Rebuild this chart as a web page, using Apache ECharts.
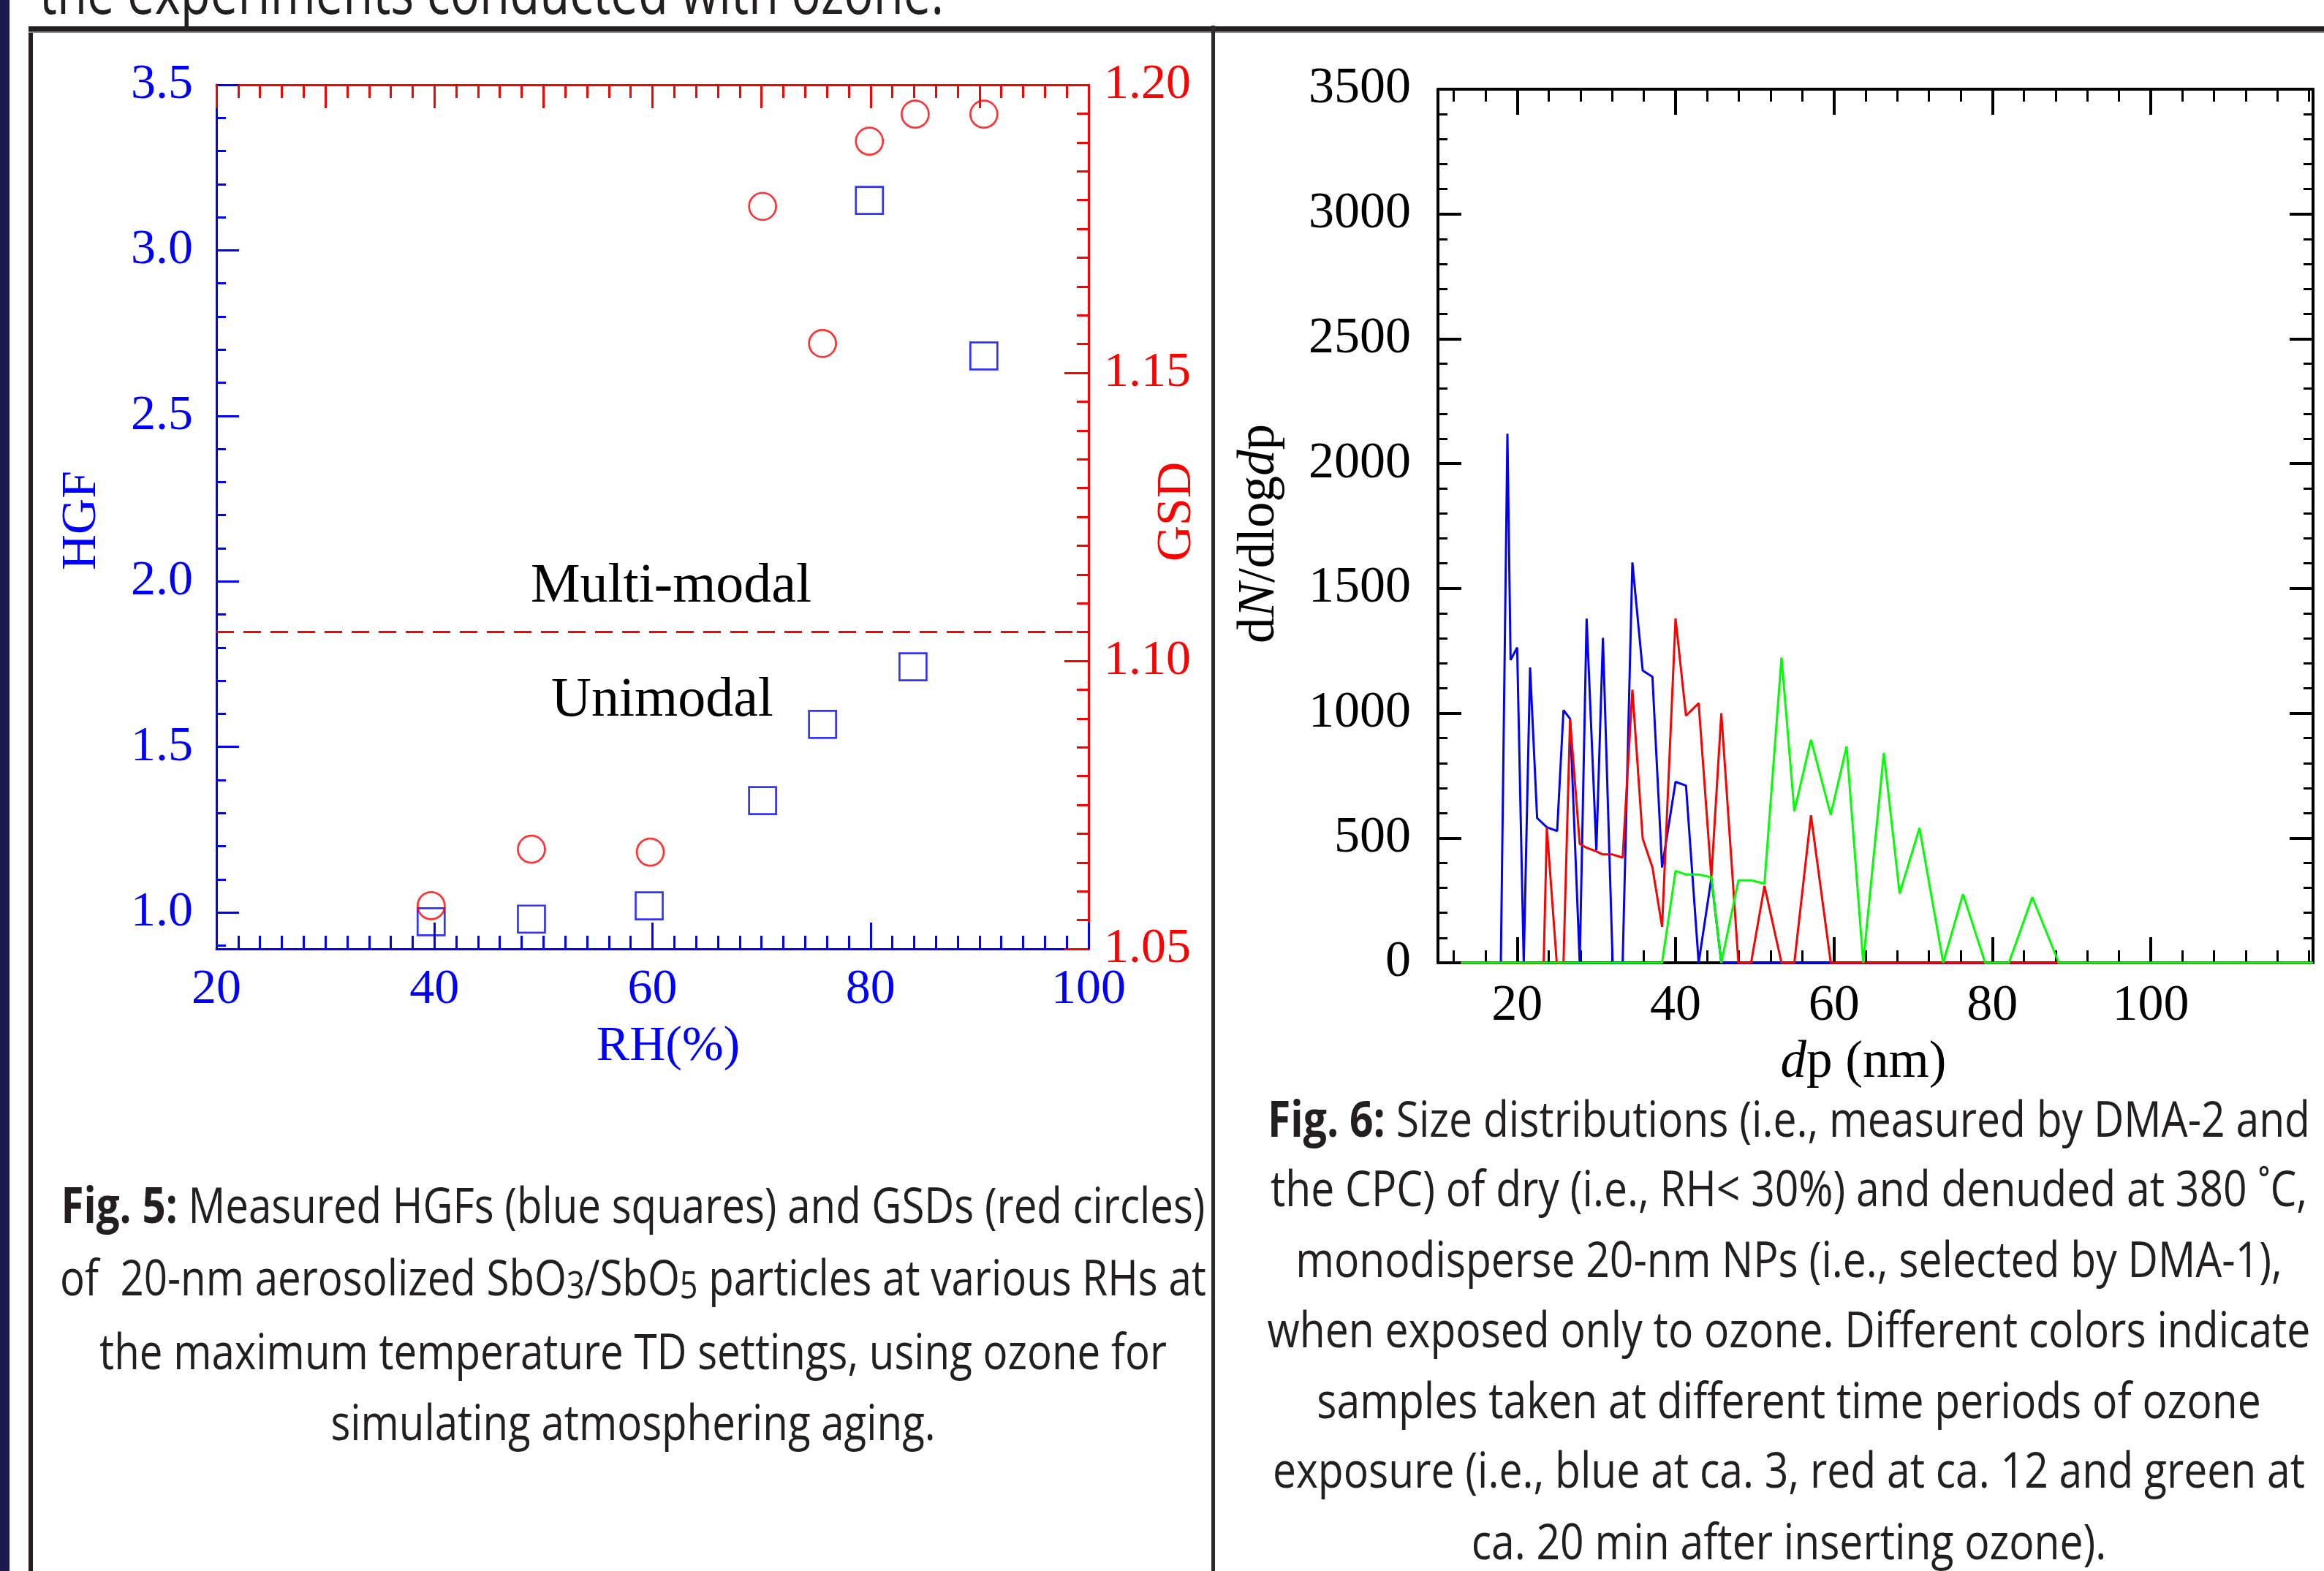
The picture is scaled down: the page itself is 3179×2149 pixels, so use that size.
<!DOCTYPE html>
<html><head><meta charset="utf-8">
<script src="https://cdn.jsdelivr.net/npm/echarts@6/dist/echarts.min.js"></script>
<style>html,body{margin:0;padding:0;background:#fff}#c{width:3179px;height:2149px}</style>
</head><body><div id="c"></div>
<script>
// ---------- Fig. 5 data ----------
const rhHGF = [39.7, 48.9, 59.7, 70.1, 75.6, 79.9, 83.9, 90.4];
const hgf   = [0.972, 0.980, 1.020, 1.338, 1.568, 3.151, 1.742, 2.681];
const rhGSD = [39.7, 48.9, 59.8, 70.1, 75.6, 79.9, 84.1, 90.4];
const gsd   = [1.0575, 1.0673, 1.0668, 1.1789, 1.1551, 1.1902, 1.1949, 1.1949];
const gsdThreshold = 1.105;
const rhTickLabels  = [20, 40, 60, 80, 100];
const hgfTickLabels = [1.0, 1.5, 2.0, 2.5, 3.0, 3.5];
const gsdTickLabels = [1.05, 1.10, 1.15, 1.20];

// ---------- Fig. 6 data ----------
const dpBlue = [12.9, 17.94, 18.77, 19.17, 20.0, 20.83, 21.63, 22.52, 23.75, 25.05, 25.85, 26.68, 27.9, 28.77, 30.0, 30.83, 32.06, 33.32, 34.55, 35.85, 37.08, 38.3, 40.0, 41.32, 42.92, 44.52, 45.78, 120.5];
const nBlue  = [0, 0, 2120, 1213, 1263, 0, 1183, 580, 543, 528, 1012, 978, 0, 1379, 451, 1302, 0, 0, 1604, 1171, 1146, 382, 725, 710, 0, 339, 0, 0];
const dpRed  = [12.9, 23.35, 23.75, 25.0, 25.85, 26.68, 27.9, 28.77, 30.0, 30.83, 32.06, 33.32, 34.55, 35.85, 37.08, 38.3, 40.0, 41.32, 42.92, 44.52, 45.78, 47.94, 49.54, 51.23, 53.38, 55.0, 57.1, 59.6, 120.5];
const nRed   = [0, 0, 540, 0, 0, 975, 476, 461, 446, 434, 434, 421, 1094, 498, 382, 144, 1379, 990, 1040, 342, 1000, 0, 0, 308, 0, 0, 591, 0, 0];
const dpGreen = [12.9, 38.3, 40.0, 41.32, 42.92, 44.52, 45.78, 47.94, 49.54, 51.23, 53.38, 55.0, 57.1, 59.6, 61.6, 63.7, 66.3, 68.3, 70.8, 73.8, 76.3, 79.1, 82.1, 85.05, 88.4, 120.5];
const nGreen  = [0, 0, 368, 354, 354, 342, 0, 330, 330, 317, 1223, 607, 894, 593, 867, 0, 841, 277, 540, 0, 275, 0, 0, 263, 0, 0];
const dpTickLabels = [20, 40, 60, 80, 100];
const dnTickLabels = [0, 500, 1000, 1500, 2000, 2500, 3000, 3500];

// ---------- texts ----------
const topText = 'the experiments conducted with ozone.';
const cap5Bold = 'Fig. 5:';
const cap5 = [
  '{b|Fig. 5:} Measured HGFs (blue squares) and GSDs (red circles)',
  'of  20-nm aerosolized SbO{s|3}/SbO{s|5} particles at various RHs at',
  'the maximum temperature TD settings, using ozone for',
  'simulating atmosphering aging.'
];
const cap6Bold = 'Fig. 6:';
const cap6 = [
  '{b|Fig. 6:} Size distributions (i.e., measured by DMA-2 and',
  'the CPC) of dry (i.e., RH< 30%) and denuded at 380 \u02DAC,',
  'monodisperse 20-nm NPs (i.e., selected by DMA-1),',
  'when exposed only to ozone. Different colors indicate',
  'samples taken at different time periods of ozone',
  'exposure (i.e., blue at ca. 3, red at ca. 12 and green at',
  'ca. 20 min after inserting ozone).'
];

const SERIF = "'Liberation Serif','Times New Roman',serif";
const SANS = "'Open Sans','Noto Sans',sans-serif";
const BLUE = '#0000ff', RED = '#ff0000', GREEN = '#00ff00', BLACK = '#000000', INK = '#231f20';
const CAP_FS = 68, TOP_FS = 86;

function range(a, b, s) { const r = []; for (let v = a; v <= b + 1e-9; v += s) r.push(+v.toFixed(4)); return r; }
function zip(xs, ys) { return xs.map((x, i) => [x, ys[i]]); }

// horizontal condensing factors (reference text is a condensed face)
const mctx = document.createElement('canvas').getContext('2d');
function tw(font, s) { mctx.font = font; return mctx.measureText(s).width; }
const w5 = tw('bold ' + CAP_FS + 'px ' + SANS, cap5Bold) + tw(CAP_FS + 'px ' + SANS, ' Measured HGFs (blue squares) and GSDs (red circles)');
const w6 = tw('bold ' + CAP_FS + 'px ' + SANS, cap6Bold) + tw(CAP_FS + 'px ' + SANS, ' Size distributions (i.e., measured by DMA-2 and');
const sx5 = 1565 / w5, sx6 = 1426 / w6;
const sxTop = 1237 / tw(TOP_FS + 'px ' + SANS, topText);

function ax(o) {
  const base = {
    type: 'value', gridIndex: o.grid, position: o.pos, min: o.min, max: o.max,
    axisLine: { show: o.line !== false, onZero: false, lineStyle: { color: o.color, width: o.lw || 3 } },
    axisTick: { show: true, inside: true, length: o.tick, lineStyle: { color: o.color, width: o.lw || 3 } },
    axisLabel: { show: !!o.labels, color: o.color, fontFamily: SERIF, fontSize: o.fs || 68, margin: o.margin || 20 },
    splitLine: { show: false }
  };
  if (o.ticks) base.axisTick.customValues = o.ticks;
  if (o.labels) base.axisLabel.customValues = o.labels;
  base.axisLabel.formatter = o.fmt || (v => String(v));
  return base;
}

const xAxis = [
  ax({grid:0,pos:'bottom',min:20,max:100,color:BLUE,tick:36,ticks:rhTickLabels,labels:rhTickLabels,margin:22}),
  ax({grid:0,pos:'bottom',min:20,max:100,color:BLUE,tick:18,ticks:range(20,100,2),line:false}),
  ax({grid:0,pos:'top',min:20,max:100,color:RED,tick:32,ticks:range(20,100,10)}),
  ax({grid:0,pos:'top',min:20,max:100,color:RED,tick:18,ticks:range(20,100,2),line:false}),
  ax({grid:1,pos:'bottom',min:10,max:120.5,color:BLACK,lw:4,tick:35,ticks:dpTickLabels,labels:dpTickLabels,fs:70,margin:25}),
  ax({grid:1,pos:'bottom',min:10,max:120.5,color:BLACK,lw:3,tick:17,ticks:range(12,120,4),line:false}),
  ax({grid:1,pos:'top',min:10,max:120.5,color:BLACK,lw:4,tick:35,ticks:dpTickLabels}),
  ax({grid:1,pos:'top',min:10,max:120.5,color:BLACK,lw:3,tick:17,ticks:range(12,120,4),line:false})
];
const yAxis = [
  ax({grid:0,pos:'left',min:0.89,max:3.5,color:BLUE,tick:31,ticks:hgfTickLabels,labels:hgfTickLabels,fmt:v=>(+v).toFixed(1),margin:32}),
  ax({grid:0,pos:'left',min:0.89,max:3.5,color:BLUE,tick:13,ticks:range(0.9,3.5,0.1),line:false}),
  ax({grid:0,pos:'right',min:1.05,max:1.20,color:RED,tick:33,ticks:gsdTickLabels,labels:gsdTickLabels,fmt:v=>(+v).toFixed(2),margin:21}),
  ax({grid:0,pos:'right',min:1.05,max:1.20,color:RED,tick:16,ticks:range(1.05,1.20,0.005),line:false}),
  ax({grid:1,pos:'left',min:0,max:3500,color:BLACK,lw:4,tick:32,ticks:dnTickLabels,labels:dnTickLabels,fs:70,margin:37}),
  ax({grid:1,pos:'left',min:0,max:3500,color:BLACK,lw:3,tick:13,ticks:range(0,3500,100),line:false}),
  ax({grid:1,pos:'right',min:0,max:3500,color:BLACK,lw:4,tick:32,ticks:dnTickLabels}),
  ax({grid:1,pos:'right',min:0,max:3500,color:BLACK,lw:3,tick:13,ticks:range(0,3500,100),line:false})
];

function txt(x, y, text, opt) {
  opt = opt || {};
  return {
    type: 'text', x: x, y: y, rotation: opt.rot || 0, scaleX: opt.sx || 1, z: 50,
    style: {
      text: text, x: 0, y: 0, align: opt.align || 'center', verticalAlign: opt.va || 'middle',
      fill: opt.color || BLACK, font: (opt.weight || 'normal') + ' ' + (opt.size || 68) + 'px ' + (opt.family || SERIF),
      rich: opt.rich
    }
  };
}

const capRich = {
  b: { fontWeight: 'bold', fontSize: CAP_FS, fontFamily: SANS, fill: INK },
  s: { fontSize: 52, fontFamily: SANS, fill: INK, verticalAlign: 'bottom', lineHeight: 42 }
};
const italic = { i: { fontStyle: 'italic', fontSize: 71, fontFamily: SERIF } };
const graphics = [
  { type: 'rect', shape: { x: 0, y: 0, width: 13, height: 2149 }, style: { fill: '#1b1a4f' }, z: 40 },
  { type: 'rect', shape: { x: 39, y: 36, width: 6, height: 2113 }, style: { fill: INK }, z: 40 },
  { type: 'rect', shape: { x: 39, y: 36, width: 3140, height: 7 }, style: { fill: INK }, z: 40 },
  { type: 'rect', shape: { x: 39, y: 43, width: 3140, height: 2 }, style: { fill: '#8a8a8a' }, z: 40 },
  { type: 'rect', shape: { x: 1657, y: 35, width: 5, height: 2114 }, style: { fill: '#2b2b2b' }, z: 40 },
  txt(54, -6, topText, { align: 'left', size: TOP_FS, family: SANS, color: INK, sx: sxTop }),
  txt(112, 712, 'HGF', { rot: Math.PI / 2, color: BLUE, size: 68 }),
  txt(1610, 700, 'GSD', { rot: Math.PI / 2, color: RED, size: 68 }),
  txt(914, 1432, 'RH(%)', { color: BLUE, size: 68 }),
  txt(1723, 730, 'd{i|N}/dlog{i|d}p', { rot: Math.PI / 2, size: 71, rich: italic }),
  txt(2549, 1454, '{i|d}p (nm)', { size: 71, rich: italic }),
  txt(918, 803, 'Multi-modal', { size: 76 }),
  txt(906, 959, 'Unimodal', { size: 76 })
];
const cap5Y = [1654, 1753, 1854, 1951];
cap5.forEach((t, i) => graphics.push(txt(866, cap5Y[i], t, { size: CAP_FS, family: SANS, color: INK, rich: capRich, sx: sx5 })));
const cap6Y = [1536, 1631, 1728, 1824, 1921, 2016, 2114];
cap6.forEach((t, i) => graphics.push(txt(2447, cap6Y[i], t, { size: CAP_FS, family: SANS, color: INK, rich: capRich, sx: sx6 })));

const chart = echarts.init(document.getElementById('c'), null, { renderer: 'canvas' });
chart.setOption({
  animation: false,
  backgroundColor: '#ffffff',
  grid: [
    { left: 296, top: 116, width: 1193, height: 1182, containLabel: false, outerBoundsMode: 'none' },
    { left: 1967, top: 122, width: 1197, height: 1195, containLabel: false, outerBoundsMode: 'none' }
  ],
  xAxis: xAxis,
  yAxis: yAxis,
  series: [
    { type: 'line', name: 'threshold', xAxisIndex: 0, yAxisIndex: 2, data: [[20, gsdThreshold], [100, gsdThreshold]],
      showSymbol: false, silent: true, clip: false, lineStyle: { color: RED, width: 3, type: [24, 13] }, z: 4 },
    { type: 'scatter', name: 'HGF', xAxisIndex: 0, yAxisIndex: 0, data: zip(rhHGF, hgf), symbol: 'rect', symbolSize: 37,
      itemStyle: { color: 'rgba(0,0,0,0)', borderColor: BLUE, borderWidth: 2.7 }, z: 5 },
    { type: 'scatter', name: 'GSD', xAxisIndex: 0, yAxisIndex: 2, data: zip(rhGSD, gsd), symbol: 'circle', symbolSize: 37,
      itemStyle: { color: 'rgba(0,0,0,0)', borderColor: RED, borderWidth: 2.7 }, z: 5 },
    { type: 'line', name: 'blue', xAxisIndex: 4, yAxisIndex: 4, data: zip(dpBlue, nBlue), showSymbol: false, clip: false,
      lineStyle: { color: BLUE, width: 3 }, itemStyle: { color: BLUE }, z: 5 },
    { type: 'line', name: 'red', xAxisIndex: 4, yAxisIndex: 4, data: zip(dpRed, nRed), showSymbol: false, clip: false,
      lineStyle: { color: RED, width: 3 }, itemStyle: { color: RED }, z: 6 },
    { type: 'line', name: 'green', xAxisIndex: 4, yAxisIndex: 4, data: zip(dpGreen, nGreen), showSymbol: false, clip: false,
      lineStyle: { color: GREEN, width: 3 }, itemStyle: { color: GREEN }, z: 7 }
  ],
  graphic: graphics
});
</script>
</body></html>
